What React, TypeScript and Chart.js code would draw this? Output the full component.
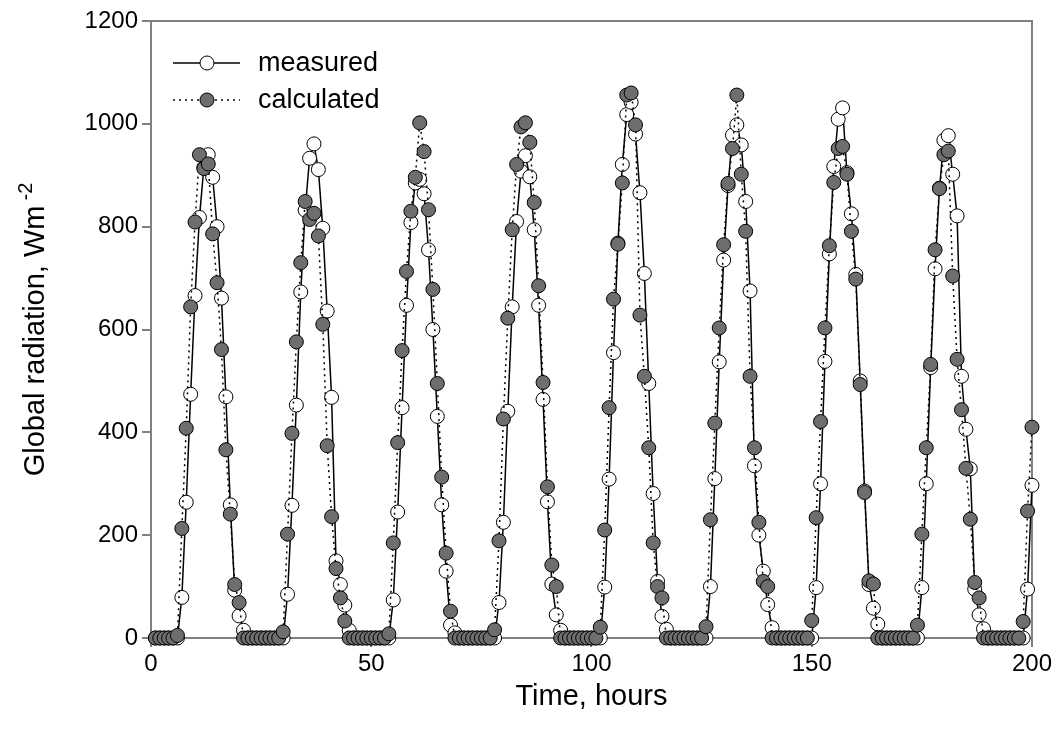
import { useEffect, useRef } from "react";
import { Chart, registerables } from "chart.js";

Chart.register(...registerables);

// Hour index (x values)
const hours = [
  1,2,3,4,5,6,7,8,9,10,11,12,13,14,15,16,17,18,19,20,21,22,23,24,
  25,26,27,28,29,30,31,32,33,34,35,36,37,38,39,40,41,42,43,44,45,46,47,48,
  49,50,51,52,53,54,55,56,57,58,59,60,61,62,63,64,65,66,67,68,69,70,71,72,
  73,74,75,76,77,78,79,80,81,82,83,84,85,86,87,88,89,90,91,92,93,94,95,96,
  97,98,99,100,101,102,103,104,105,106,107,108,109,110,111,112,113,114,115,116,117,118,119,120,
  121,122,123,124,125,126,127,128,129,130,131,132,133,134,135,136,137,138,139,140,141,142,143,144,
  145,146,147,148,149,150,151,152,153,154,155,156,157,158,159,160,161,162,163,164,165,166,167,168,
  169,170,171,172,173,174,175,176,177,178,179,180,181,182,183,184,185,186,187,188,189,190,191,192,
  193,194,195,196,197,198,199,200,
];

// Measured global radiation, W m-2
const measured = [
  0,0,0,0,0,0,79,264,474,666,818,915,940,896,800,661,469,259,93,43,15,0,0,0,
  0,0,0,0,0,0,85,258,453,673,832,933,961,911,797,636,468,150,104,64,15,0,0,0,
  0,0,0,0,0,0,74,245,448,647,808,885,892,864,755,600,431,259,130,25,10,0,0,0,
  0,0,0,0,0,0,69,225,441,644,810,908,938,897,794,647,464,265,105,45,15,0,0,0,
  0,0,0,0,0,0,99,309,555,768,921,1018,1042,980,866,709,495,281,110,42,17,0,0,0,
  0,0,0,0,0,0,100,310,537,735,880,978,998,959,849,675,335,200,130,65,20,0,0,0,
  0,0,0,0,0,0,98,300,538,747,917,1009,1031,905,825,707,500,286,104,58,27,0,0,0,
  0,0,0,0,0,0,98,300,526,718,875,968,977,902,821,509,406,329,95,45,18,0,0,0,
  0,0,0,0,0,0,95,297,
];

// Calculated global radiation, W m-2
const calculated = [
  0,0,0,0,0,5,213,408,644,809,940,913,922,786,691,561,366,241,104,69,0,0,0,0,
  0,0,0,0,0,12,202,398,576,730,849,814,826,782,610,374,236,135,78,33,0,0,0,0,
  0,0,0,0,0,8,185,380,559,713,830,896,1002,946,833,678,495,313,165,52,0,0,0,0,
  0,0,0,0,0,16,189,426,622,794,921,994,1002,964,847,685,497,294,142,100,0,0,0,0,
  0,0,0,0,0,21,210,448,659,766,885,1056,1060,998,628,509,370,185,100,78,0,0,0,0,
  0,0,0,0,0,22,230,418,603,765,884,952,1056,902,791,509,370,225,110,100,0,0,0,0,
  0,0,0,0,0,34,234,421,603,763,886,952,956,902,791,698,493,283,111,105,0,0,0,0,
  0,0,0,0,0,25,202,370,532,755,874,940,947,704,542,444,330,231,108,78,0,0,0,0,
  0,0,0,0,0,32,247,410,
];

const seriesNames = ["measured", "calculated"];
const xTickValues = [0, 50, 100, 150, 200];
const yTickValues = [0, 200, 400, 600, 800, 1000, 1200];
const xTitle = "Time, hours";
const yTitle = "Global radiation, Wm";
const yTitleSup = "-2";

const FONT = '"Liberation Sans", Arial, Helvetica, sans-serif';
const AXIS_GRAY = "#808080";
const CALC_FILL = "#6e6e6e";
const W = 1057;
const H = 740;

export default function App() {
  const ref = useRef<HTMLCanvasElement | null>(null);

  useEffect(() => {
    const canvas = ref.current;
    if (!canvas) return;

    const framePlugin = {
      id: "frame",
      beforeDatasetsDraw(chart: any) {
        const { ctx, chartArea: a } = chart;
        ctx.save();
        ctx.strokeStyle = AXIS_GRAY;
        ctx.lineWidth = 2;
        ctx.beginPath();
        ctx.moveTo(a.left - 1, a.top);
        ctx.lineTo(a.right, a.top);
        ctx.lineTo(a.right, a.bottom + 1);
        ctx.stroke();
        ctx.restore();
      },
    };

    const textPlugin = {
      id: "texts",
      afterDraw(chart: any) {
        const { ctx, chartArea: a } = chart;
        ctx.save();
        ctx.fillStyle = "#000";
        // y title (rotated, with superscript)
        const cx = 36;
        const cy = (a.top + a.bottom) / 2;
        ctx.translate(cx, cy);
        ctx.rotate(-Math.PI / 2);
        ctx.font = `29px ${FONT}`;
        const w = ctx.measureText(yTitle).width;
        ctx.font = `20px ${FONT}`;
        const ws = ctx.measureText(yTitleSup).width;
        const gap = 5;
        const total = w + gap + ws;
        ctx.textBaseline = "middle";
        ctx.textAlign = "left";
        ctx.font = `29px ${FONT}`;
        ctx.fillText(yTitle, -total / 2, 0);
        ctx.font = `20px ${FONT}`;
        ctx.fillText(yTitleSup, -total / 2 + w + gap, -10);
        ctx.setTransform(1, 0, 0, 1, 0, 0);
        // x title
        ctx.font = `29px ${FONT}`;
        ctx.textAlign = "center";
        ctx.textBaseline = "middle";
        ctx.fillText(xTitle, (a.left + a.right) / 2, 697);

        // legend
        const rows = [
          { y: 63, dash: [] as number[], fill: "#ffffff", label: seriesNames[0] },
          { y: 100, dash: [2, 4], fill: CALC_FILL, label: seriesNames[1] },
        ];
        rows.forEach((r) => {
          ctx.strokeStyle = "#000";
          ctx.lineWidth = 1.5;
          ctx.setLineDash(r.dash);
          ctx.beginPath();
          ctx.moveTo(173, r.y);
          ctx.lineTo(240, r.y);
          ctx.stroke();
          ctx.setLineDash([]);
          ctx.beginPath();
          ctx.arc(207, r.y, 7, 0, Math.PI * 2);
          ctx.fillStyle = r.fill;
          ctx.fill();
          ctx.lineWidth = 1;
          ctx.stroke();
          ctx.fillStyle = "#000";
          ctx.font = `27px ${FONT}`;
          ctx.textAlign = "left";
          ctx.textBaseline = "middle";
          ctx.fillText(r.label, 258, r.y + 1);
        });
        ctx.restore();
      },
    };

    const chart = new Chart(canvas, {
      type: "line",
      data: {
        datasets: [
          {
            label: seriesNames[0],
            data: hours.map((h, i) => ({ x: h, y: measured[i] })),
            borderColor: "#000000",
            borderWidth: 1.5,
            backgroundColor: "#ffffff",
            pointRadius: 7,
            pointHoverRadius: 7,
            pointBackgroundColor: "#ffffff",
            pointBorderColor: "#000000",
            pointBorderWidth: 1,
            tension: 0,
            fill: false,
            clip: false,
            order: 2,
          },
          {
            label: seriesNames[1],
            data: hours.map((h, i) => ({ x: h, y: calculated[i] })),
            borderColor: "#000000",
            borderWidth: 1.5,
            borderDash: [2, 4],
            backgroundColor: CALC_FILL,
            pointRadius: 7,
            pointHoverRadius: 7,
            pointBackgroundColor: CALC_FILL,
            pointBorderColor: "#000000",
            pointBorderWidth: 1,
            tension: 0,
            fill: false,
            clip: false,
            order: 1,
          },
        ],
      },
      options: {
        animation: false,
        responsive: false,
        devicePixelRatio: 1,
        events: [],
        layout: { padding: { left: 0, right: 23, top: 21, bottom: 0 } },
        plugins: {
          legend: { display: false },
          tooltip: { enabled: false },
          title: { display: false },
        },
        scales: {
          x: {
            type: "linear",
            min: 0,
            max: 200,
            afterBuildTicks: (s: any) => {
              s.ticks = xTickValues.map((v) => ({ value: v }));
            },
            afterFit: (s: any) => {
              s.height = 102;
            },
            ticks: {
              color: "#000",
              font: { family: FONT, size: 24, lineHeight: 1 },
              padding: 5,
              maxRotation: 0,
              callback: (v: any) => String(v),
            },
            grid: {
              display: true,
              drawOnChartArea: false,
              drawTicks: true,
              tickLength: 9,
              color: AXIS_GRAY,
              lineWidth: 2,
            },
            border: { display: true, color: AXIS_GRAY, width: 2 },
          },
          y: {
            type: "linear",
            min: 0,
            max: 1200,
            afterBuildTicks: (s: any) => {
              s.ticks = yTickValues.map((v) => ({ value: v }));
            },
            afterFit: (s: any) => {
              s.width = 151;
            },
            ticks: {
              color: "#000",
              font: { family: FONT, size: 24, lineHeight: 1 },
              padding: 4,
              callback: (v: any) => String(v),
            },
            grid: {
              display: true,
              drawOnChartArea: false,
              drawTicks: true,
              tickLength: 9,
              color: AXIS_GRAY,
              lineWidth: 2,
            },
            border: { display: true, color: AXIS_GRAY, width: 2 },
          },
        },
      },
      plugins: [framePlugin, textPlugin],
    });

    return () => {
      chart.destroy();
    };
  }, []);

  return (
    <div style={{ position: "fixed", left: 0, top: 0, width: W, height: H, background: "#fff" }}>
      <canvas ref={ref} width={W} height={H} style={{ width: W, height: H, display: "block" }} />
    </div>
  );
}
